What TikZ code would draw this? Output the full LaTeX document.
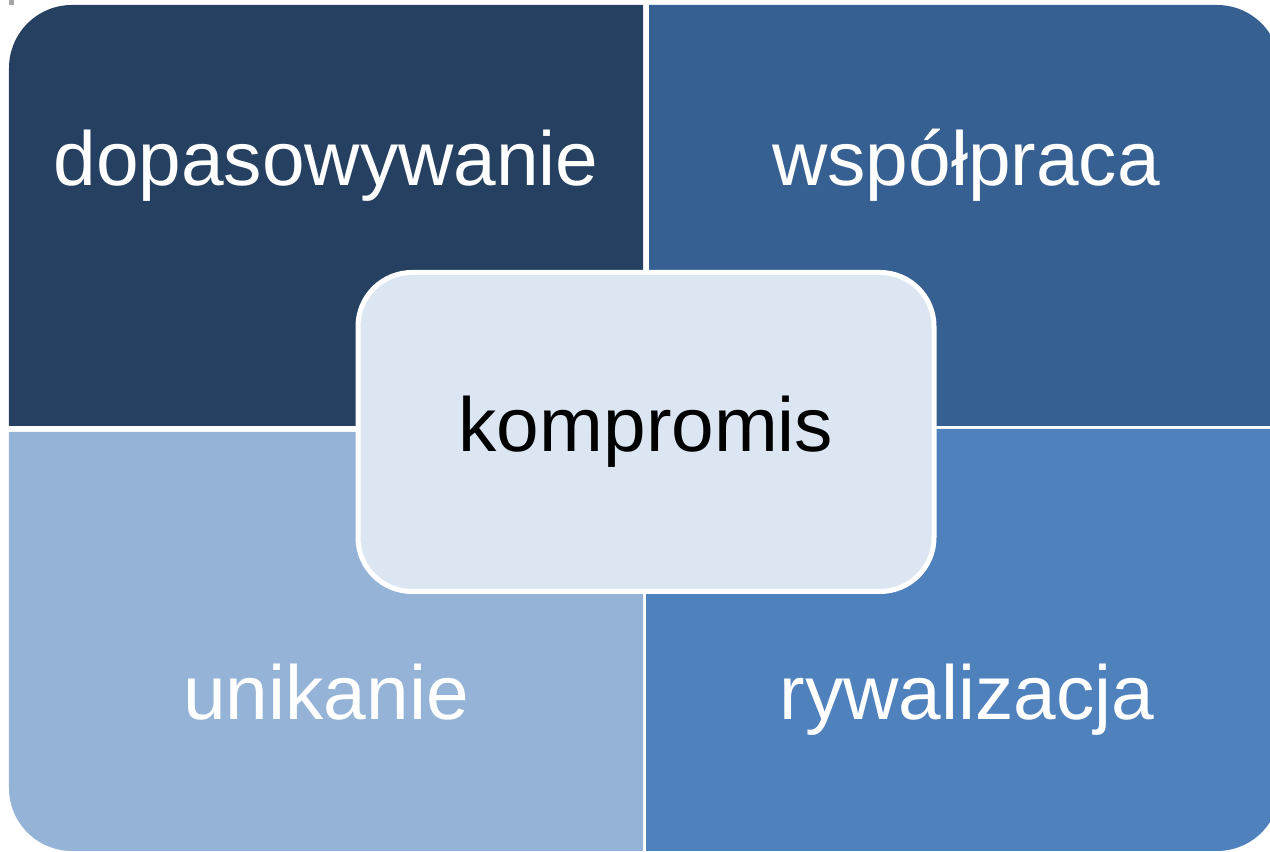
\documentclass[tikz,border=0pt]{standalone}
\usepackage{fontspec}
\setmainfont{Liberation Sans}
\definecolor{navyquad}{HTML}{254061}
\definecolor{steelquad}{HTML}{376092}
\definecolor{paleblue}{HTML}{95B3D7}
\definecolor{midblue}{HTML}{4F81BD}
\definecolor{lightfill}{HTML}{DCE6F2}
\begin{document}
\begin{tikzpicture}[
  quadtext/.style={font=\fontsize{21.8}{26}\selectfont, text=white, anchor=base, inner sep=0pt},
  midbox/.style={draw=white, line width=0.05cm, fill=lightfill, rounded corners=0.54cm,
                 minimum width=5.76cm, minimum height=3.19cm, font=\fontsize{21.8}{26}\selectfont}
]
\useasboundingbox (0,0) rectangle (12.7,8.52);
\fill[gray!70] (0.09,8.47) rectangle (0.14,8.52);
% four quadrants, outer corners rounded
\fill[navyquad]  (6.43,4.26) -- (0.09,4.26) -- (0.09,7.84) arc[start angle=180, end angle=90, radius=0.63] -- (6.43,8.47) -- cycle;
\fill[steelquad] (6.49,4.26) -- (6.49,8.47) -- (12.17,8.47) arc[start angle=90, end angle=0, radius=0.63] -- (12.80,4.26) -- cycle;
\fill[paleblue]  (6.43,4.20) -- (0.09,4.20) -- (0.09,0.64) arc[start angle=180, end angle=270, radius=0.63] -- (6.43,0.01) -- cycle;
\fill[midblue]   (6.46,4.23) -- (12.80,4.23) -- (12.80,0.64) arc[start angle=0, end angle=-90, radius=0.63] -- (6.46,0.01) -- cycle;
\node[quadtext] (dopas)  at (3.26,6.66) {dopasowywanie};
\node[quadtext] (wspol)  at (9.66,6.66) {współpraca};
\node[quadtext] (unik)   at (3.26,1.32) {unikanie};
\node[quadtext] (rywal)  at (9.67,1.32) {rywalizacja};
\node[midbox]   (kompro) at (6.46,4.20) {kompromis};
\end{tikzpicture}
\end{document}
